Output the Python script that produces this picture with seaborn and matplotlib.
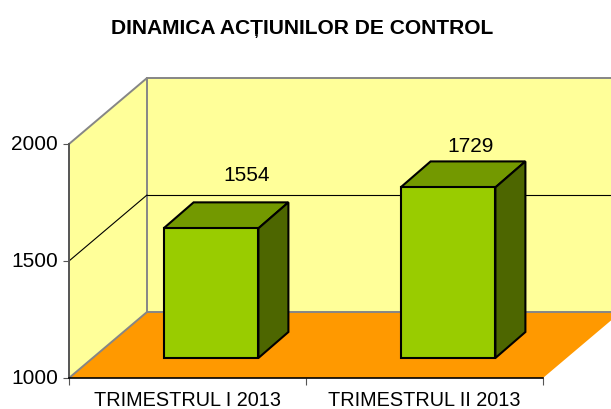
# -*- coding: utf-8 -*-
import matplotlib
matplotlib.use('Agg')
import matplotlib.pyplot as plt
from matplotlib.patches import Polygon
from matplotlib.transforms import Affine2D
import seaborn as sns

title = 'DINAMICA ACȚIUNILOR DE CONTROL'
quarters = ['TRIMESTRUL I 2013', 'TRIMESTRUL II 2013']
actions = [1554, 1729]
y_ticks = [1000, 1500, 2000]

sns.set_theme(style='white')
plt.rcParams['font.family'] = ['Liberation Sans', 'DejaVu Sans']

WALL = '#FFFF99'
FLOOR = '#FF9900'
BAR = '#99CC00'
BAR_TOP = '#739900'
BAR_SIDE = '#4D6600'
GREY = '#868686'

W, H = 611, 409
fig = plt.figure(figsize=(W / 100, H / 100), dpi=100, facecolor='white')
ax = fig.add_axes([69 / W, (H - 378) / H, 474 / W, 234 / H])
ax.patch.set_visible(False)

sns.barplot(x=quarters, y=actions, color=BAR, saturation=1, width=0.4,
            edgecolor='black', linewidth=1.5, ax=ax, zorder=3)
ax.set_xlim(-0.5, 1.5)
ax.set_ylim(y_ticks[0], y_ticks[-1])


def px(x, y, dx=0, dy=0):
    p = ax.transData.transform((x, y))
    return (p[0] + dx, p[1] + dy)


def poly(points, face, edge='none', lw=0, z=1):
    fig.add_artist(Polygon(points, closed=True, facecolor=face, edgecolor=edge,
                           linewidth=lw, zorder=z, transform=None))


# depth of the 3d box, in pixels
DX, DY = 78, 66
xa, xb = -0.5, 1.5
ya, yb = y_ticks[0], y_ticks[-1]

fig_ax_z = -1
poly([px(xa, ya, DX, DY), px(xb, ya, DX, DY), px(xb, yb, DX, DY), px(xa, yb, DX, DY)],
     WALL, z=fig_ax_z)
poly([px(xa, ya), px(xa, ya, DX, DY), px(xa, yb, DX, DY), px(xa, yb)], WALL, z=fig_ax_z)
poly([px(xa, ya), px(xb, ya), px(xb, ya, DX, DY), px(xa, ya, DX, DY)], FLOOR, z=fig_ax_z)

# box edges
for a, b in [(px(xa, yb), px(xa, yb, DX, DY)),
             (px(xa, yb, DX, DY), px(xb, yb, DX, DY)),
             (px(xa, yb, DX, DY), px(xa, ya, DX, DY)),
             (px(xa, ya, DX, DY), px(xb, ya, DX, DY)),
             (px(xa, ya), px(xa, ya, DX, DY))]:
    fig.add_artist(plt.Line2D([a[0], b[0]], [a[1], b[1]], color=GREY, lw=1.4,
                              transform=None, zorder=-0.5))

# gridline on the walls
mid = y_ticks[1]
for a, b in [(px(xa, mid), px(xa, mid, DX, DY)), (px(xa, mid, DX, DY), px(xb, mid, DX, DY))]:
    fig.add_artist(plt.Line2D([a[0], b[0]], [a[1], b[1]], color='black', lw=0.8,
                              transform=None, zorder=-0.5))

# bars stand inside the box: shift front faces, then add top and side
BX, BY = 23.5, 20
SX, SY = 30, 26
shift = ax.transData + Affine2D().translate(BX, BY)
label_offsets = [(36, 53), (23, 41)]
for bar, val, off in zip(ax.patches, actions, label_offsets):
    bar.set_y(ya)
    bar.set_height(val - ya)
    bar.set_transform(shift)
    bar.set_clip_on(False)
    x0 = bar.get_x()
    x1 = x0 + bar.get_width()
    tl = px(x0, val, BX, BY)
    tr = px(x1, val, BX, BY)
    br = px(x1, ya, BX, BY)
    poly([tl, tr, (tr[0] + SX, tr[1] + SY), (tl[0] + SX, tl[1] + SY)],
         BAR_TOP, 'black', 1.5, z=0)
    poly([tr, br, (br[0] + SX, br[1] + SY), (tr[0] + SX, tr[1] + SY)],
         BAR_SIDE, 'black', 1.5, z=0)
    ax.annotate(str(val), xy=((x0 + x1) / 2, val), xycoords='data',
                xytext=(off[0] + BX, off[1] + BY), textcoords='offset pixels',
                ha='center', va='center', fontsize=15, color='black')

# axes
for side in ['top', 'right']:
    ax.spines[side].set_visible(False)
ax.spines['left'].set_color('#555555')
ax.spines['left'].set_linewidth(1.4)
ax.spines['bottom'].set_color('black')
ax.spines['bottom'].set_linewidth(1.2)
ax.set_yticks(y_ticks)
ax.set_xticks([0, 1], quarters)
ax.set_xticks([-0.5, 0.5, 1.5], minor=True)
ax.tick_params(axis='y', left=True, length=4.5, width=0.8, color='#555555',
               labelsize=15, pad=3.5, labelcolor='black')
ax.tick_params(axis='x', which='major', bottom=False, labelsize=14.3, pad=3.4,
               labelcolor='black')
ax.tick_params(axis='x', which='minor', bottom=True, length=5, width=0.8, color='#555555')
ax.set_xlabel('')
ax.set_ylabel('')
for lab in ax.get_yticklabels():
    lab.set_transform(lab.get_transform() + Affine2D().translate(0, 1.5))

fig.text(302 / W, (H - 28) / H, title, ha='center', va='center',
         fontsize=15.1, fontweight='bold', color='black')

fig.savefig('out.png', dpi=100, facecolor='white')
